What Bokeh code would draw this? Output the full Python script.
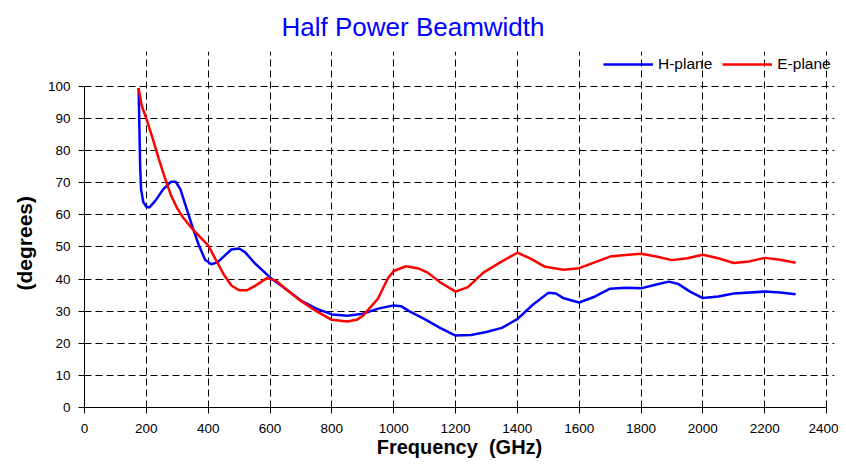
from bokeh.plotting import figure
from bokeh.models import FixedTicker, Legend, LegendItem, Range1d, Title
from bokeh.embed import file_html
from bokeh.resources import INLINE

# Frequency (GHz) and half power beamwidth (degrees)
h_freq = [175, 178, 180, 183, 190, 200, 210, 230, 255, 280, 295, 310, 330, 350, 370, 390,
          410, 430, 450, 475, 500, 520, 550, 600, 650, 700, 750, 800, 850, 900, 950, 1000,
          1025, 1050, 1100, 1150, 1200, 1250, 1300, 1350, 1400, 1450, 1500, 1525, 1550, 1600,
          1650, 1700, 1750, 1800, 1850, 1890, 1920, 1960, 2000, 2050, 2100, 2200, 2250, 2300]
h_plane = [99.5, 85, 75, 68, 64, 62.5, 62.3, 64.5, 68, 70.3, 70.3, 68, 62, 56, 50.5, 46,
           44.6, 45.2, 47, 49.2, 49.5, 48.3, 45, 40.5, 37, 33.3, 30.8, 29, 28.6, 29.2, 30.8, 31.8,
           31.5, 30, 27.5, 24.8, 22.4, 22.6, 23.5, 24.8, 27.5, 32, 35.7, 35.5, 34, 32.7,
           34.5, 37, 37.3, 37.1, 38.3, 39.2, 38.5, 36, 34.1, 34.6, 35.5, 36.1, 35.8, 35.3]

e_freq = [175, 185, 200, 220, 240, 260, 280, 300, 320, 350, 375, 400, 425, 450, 475, 500,
          525, 550, 590, 620, 650, 700, 750, 800, 850, 880, 900, 950, 980, 1000, 1040, 1080,
          1110, 1150, 1200, 1240, 1290, 1350, 1400, 1440, 1490, 1550, 1600, 1650, 1700, 1750,
          1800, 1850, 1900, 1950, 2000, 2050, 2100, 2150, 2200, 2250, 2300]
e_plane = [99.5, 94, 90, 84, 77.5, 71.5, 66, 62, 59, 55.5, 53, 50.5, 46, 41.5, 38, 36.5,
           36.5, 37.8, 40.3, 39.5, 37, 33.2, 30, 27.3, 26.8, 27.3, 28.5, 34, 40, 42.5, 44, 43.3,
           42, 39, 36.1, 37.5, 42, 45.5, 48.2, 46.5, 43.8, 42.9, 43.4, 45.2, 47, 47.5,
           47.9, 47, 45.9, 46.5, 47.6, 46.5, 45, 45.5, 46.6, 46, 45.1]

x_ticks = list(range(0, 2401, 200))
y_ticks = list(range(0, 101, 10))

FONT = "Liberation Sans"

# frame extends a little beyond the data axes to host the legend
Y_TOP = 100 + 35 / 3.22
X_TOP = 2400 + 8 / (742 / 2400)

p = figure(width=838, height=460, output_backend="svg", toolbar_location=None,
           x_range=Range1d(0, X_TOP), y_range=Range1d(0, Y_TOP),
           min_border_left=84, min_border_right=4, min_border_top=50, min_border_bottom=53)

p.title.text = "Half Power Beamwidth"
p.title.text_font = FONT
p.title.text_font_size = "26px"
p.title.text_font_style = "normal"
p.title.text_color = "#0000FF"
p.title.align = "left"
p.title.offset = 197
p.title.standoff = 19

p.outline_line_color = None
p.background_fill_color = "white"
p.border_fill_color = "white"

hl = p.line(h_freq, h_plane, line_color="#0000FF", line_width=2.5)
el = p.line(e_freq, e_plane, line_color="#FF0000", line_width=2.5)

for ax in (p.xaxis[0], p.yaxis[0]):
    ax.major_label_text_font = FONT
    ax.major_label_text_font_size = "13.5px"
    ax.major_label_text_color = "black"
    ax.axis_label_text_font = FONT
    ax.axis_label_text_font_style = "bold"
    ax.axis_label_text_color = "black"
    ax.axis_line_color = "black"
    ax.major_tick_line_color = "black"
    ax.major_tick_in = 0
    ax.major_tick_out = 6
    ax.minor_tick_line_color = None

p.yaxis.bounds = (0, 100)
p.xaxis.bounds = (0, 2400)
p.xaxis.ticker = FixedTicker(ticks=x_ticks)
p.yaxis.ticker = FixedTicker(ticks=y_ticks)
p.xaxis.axis_label = "Frequency \u00a0(GHz)"
p.xaxis.axis_label_text_font_size = "20px"
p.xaxis.axis_label_standoff = 0
p.xaxis.major_label_standoff = 10
p.yaxis.major_label_standoff = 8

ylabel = Title(text="(degrees)", text_font=FONT, text_font_size="21px",
               text_font_style="bold", text_color="black",
               align="left", offset=117, standoff=17)
p.add_layout(ylabel, "left")

for g in (p.xgrid[0], p.ygrid[0]):
    g.grid_line_color = "black"
    g.grid_line_dash = "7 4"
    g.grid_line_width = 1
p.xgrid[0].bounds = (0, 100)
p.ygrid[0].bounds = (0, 2400)

legend = Legend(items=[LegendItem(label="H-plane", renderers=[hl]),
                       LegendItem(label="E-plane", renderers=[el])],
                orientation="horizontal", location=(519, 333),
                label_text_font=FONT, label_text_font_size="15.5px",
                label_text_color="black",
                glyph_width=50, label_standoff=5, spacing=10,
                border_line_color=None, background_fill_alpha=0,
                padding=2, margin=0)
p.add_layout(legend)

open("out.html", "w").write(file_html(p, INLINE))
